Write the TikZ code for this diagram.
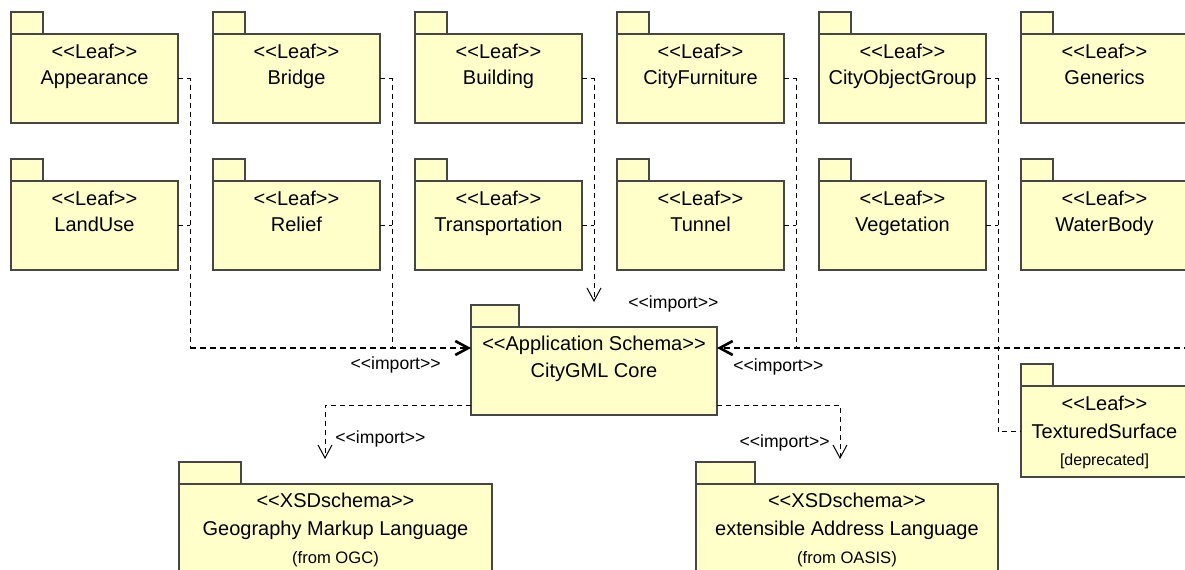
\documentclass[tikz,border=0pt]{standalone}
\usepackage{fontspec}
\setmainfont{Liberation Sans}[Ligatures=TeXOff]
\usepackage{tikz}
\usetikzlibrary{arrows.meta, shapes, positioning}
\definecolor{pkgfill}{RGB}{255,255,202}
\definecolor{pkgline}{RGB}{70,70,70}

\begin{document}
\begin{tikzpicture}[x=0.5pt, y=-0.5pt,
        pkg/.style={draw=pkgline, fill=pkgfill, line width=0.6pt, outer sep=0pt, inner sep=0pt, minimum width=83.5pt, minimum height=44.5pt},
        pkgtab/.style={draw=pkgline, fill=pkgfill, line width=0.6pt, outer sep=0pt, inner sep=0pt, minimum width=16pt, minimum height=11pt},
        pkgtext/.style={align=center, inner sep=0pt, font=\fontsize{10}{13}\selectfont},
        importlabel/.style={inner sep=0pt, font=\fontsize{8.8}{10}\selectfont},
        importline/.style={line width=0.5pt, dash pattern=on 2.5pt off 2pt},
        importthick/.style={line width=1.1pt, dash pattern=on 3pt off 2pt},
        barb/.style={-{Straight Barb[length=6.5pt, width=7pt]}},
        barbthick/.style={-{Straight Barb[length=6.5pt, width=7pt, line width=1.3pt]}}]
        \useasboundingbox (0,0) rectangle (1185,569);
        \clip (0,0) rectangle (1185,569);

        \node[pkg, anchor=north west] (Appearance) at (11,34) {};
        \node[pkg, right=17.5pt of Appearance] (Bridge) {};
        \node[pkg, right=17.5pt of Bridge] (Building) {};
        \node[pkg, right=17.5pt of Building] (CityFurniture) {};
        \node[pkg, right=17.5pt of CityFurniture] (CityObjectGroup) {};
        \node[pkg, right=17.5pt of CityObjectGroup] (Generics) {};
        \node[pkg, below=29pt of Appearance] (LandUse) {};
        \node[pkg, below=29pt of Bridge] (Relief) {};
        \node[pkg, below=29pt of Building] (Transportation) {};
        \node[pkg, below=29pt of CityFurniture] (Tunnel) {};
        \node[pkg, below=29pt of CityObjectGroup] (Vegetation) {};
        \node[pkg, below=29pt of Generics] (WaterBody) {};
        \node[pkg, below=58pt of WaterBody, minimum height=45.5pt] (TexturedSurface) {};

        \node[pkgtab, above right=0pt and 0pt of Appearance.north west] (AppearanceTab) {};
        \node[pkgtab, above right=0pt and 0pt of Bridge.north west] (BridgeTab) {};
        \node[pkgtab, above right=0pt and 0pt of Building.north west] (BuildingTab) {};
        \node[pkgtab, above right=0pt and 0pt of CityFurniture.north west] (CityFurnitureTab) {};
        \node[pkgtab, above right=0pt and 0pt of CityObjectGroup.north west] (CityObjectGroupTab) {};
        \node[pkgtab, above right=0pt and 0pt of Generics.north west] (GenericsTab) {};
        \node[pkgtab, above right=0pt and 0pt of LandUse.north west] (LandUseTab) {};
        \node[pkgtab, above right=0pt and 0pt of Relief.north west] (ReliefTab) {};
        \node[pkgtab, above right=0pt and 0pt of Transportation.north west] (TransportationTab) {};
        \node[pkgtab, above right=0pt and 0pt of Tunnel.north west] (TunnelTab) {};
        \node[pkgtab, above right=0pt and 0pt of Vegetation.north west] (VegetationTab) {};
        \node[pkgtab, above right=0pt and 0pt of WaterBody.north west] (WaterBodyTab) {};
        \node[pkgtab, above right=0pt and 0pt of TexturedSurface.north west] (TexturedSurfaceTab) {};

        \node[pkgtext, below=4.9pt of Appearance.north] (AppearanceText) {<<Leaf>>\\Appearance};
        \node[pkgtext, below=4.9pt of Bridge.north] (BridgeText) {<<Leaf>>\\Bridge};
        \node[pkgtext, below=4.9pt of Building.north] (BuildingText) {<<Leaf>>\\Building};
        \node[pkgtext, below=4.9pt of CityFurniture.north] (CityFurnitureText) {<<Leaf>>\\CityFurniture};
        \node[pkgtext, below=4.9pt of CityObjectGroup.north] (CityObjectGroupText) {<<Leaf>>\\CityObjectGroup};
        \node[pkgtext, below=4.9pt of Generics.north] (GenericsText) {<<Leaf>>\\Generics};
        \node[pkgtext, below=4.9pt of LandUse.north] (LandUseText) {<<Leaf>>\\LandUse};
        \node[pkgtext, below=4.9pt of Relief.north] (ReliefText) {<<Leaf>>\\Relief};
        \node[pkgtext, below=4.9pt of Transportation.north] (TransportationText) {<<Leaf>>\\Transportation};
        \node[pkgtext, below=4.9pt of Tunnel.north] (TunnelText) {<<Leaf>>\\Tunnel};
        \node[pkgtext, below=4.9pt of Vegetation.north] (VegetationText) {<<Leaf>>\\Vegetation};
        \node[pkgtext, below=4.9pt of WaterBody.north] (WaterBodyText) {<<Leaf>>\\WaterBody};
        \node[pkgtext, below=4.9pt of TexturedSurface.north, font=\fontsize{10}{13.8}\selectfont] (TexturedSurfaceText) {<<Leaf>>\\TexturedSurface\\{\fontsize{8}{13.8}\selectfont [deprecated]}};

        \node[pkg, anchor=north west, minimum width=123pt, minimum height=44pt] (Core) at (471,327) {};
        \node[pkgtab, minimum width=24pt, above right=0pt and 0pt of Core.north west] (CoreTab) {};
        \node[pkgtext, below=4.4pt of Core.north, font=\fontsize{10}{13.6}\selectfont] (CoreText) {<<Application Schema>>\\CityGML Core};

        \node[pkg, anchor=north west, minimum width=156.5pt, minimum height=46pt] (GML) at (179,484) {};
        \node[pkgtab, minimum width=31pt, above right=0pt and 0pt of GML.north west] (GMLTab) {};
        \node[pkgtext, below=4.5pt of GML.north, font=\fontsize{10}{13.9}\selectfont] (GMLText) {<<XSDschema>>\\Geography Markup Language\\{\fontsize{8.3}{13.9}\selectfont (from OGC)}};

        \node[pkg, anchor=north west, minimum width=151pt, minimum height=46pt] (XAL) at (696,484) {};
        \node[pkgtab, minimum width=29.5pt, above right=0pt and 0pt of XAL.north west] (XALTab) {};
        \node[pkgtext, below=4.5pt of XAL.north, font=\fontsize{10}{13.9}\selectfont] (XALText) {<<XSDschema>>\\extensible Address Language\\{\fontsize{8.3}{13.9}\selectfont (from OASIS)}};

        \coordinate (InL) at ([yshift=-10.5pt]Core.north west);
        \coordinate (InR) at ([yshift=-10.5pt]Core.north east);
        \coordinate (OutL) at ([yshift=5pt]Core.south west);
        \coordinate (OutR) at ([yshift=5pt]Core.south east);
        \coordinate (JA) at ([xshift=6pt]Appearance.east);
        \coordinate (JB) at ([xshift=6pt]Bridge.east);
        \coordinate (JC) at ([xshift=6pt]Building.east);
        \coordinate (JD) at ([xshift=6pt]CityFurniture.east);
        \coordinate (JE) at ([xshift=6pt]CityObjectGroup.east);
        \coordinate (JF) at ([xshift=6pt]Generics.east);
        \path (JC |- CoreTab.north) ++(0,-3) coordinate (ToCore);
        \coordinate (ToGML) at (325,459);
        \coordinate (ToXAL) at (840,459);

        \draw[importline] (Appearance.east) -- (JA) -- (JA |- InL);
        \draw[importline] (LandUse.east) -- (LandUse.east -| JA);
        \draw[importline] (Bridge.east) -- (JB) -- (JB |- InL);
        \draw[importline] (Relief.east) -- (Relief.east -| JB);
        \draw[importline, barb] (Building.east) -- (JC) -- (ToCore);
        \draw[importline] (Transportation.east) -- (Transportation.east -| JC);
        \draw[importline] (CityFurniture.east) -- (JD) -- (JD |- InR);
        \draw[importline] (Tunnel.east) -- (Tunnel.east -| JD);
        \draw[importline] (CityObjectGroup.east) -- (JE) |- (TexturedSurface.west);
        \draw[importline] (Vegetation.east) -- (Vegetation.east -| JE);
        \draw[importthick, barbthick] (JA |- InL) -- (InL);
        \draw[importthick, barbthick] (JF |- InR) -- (InR);
        \draw[importline, barb] (OutL) -| (ToGML);
        \draw[importline, barb] (OutR) -| (ToXAL);

        \node[importlabel, below left=4pt and 15pt of InL] (ImportL) {<<import>>};
        \node[importlabel, below right=5pt and 8pt of InR] (ImportR) {<<import>>};
        \node[importlabel, right=17pt of ToCore, yshift=-1pt] (ImportT) {<<import>>};
        \node[importlabel, above right=5.5pt and 5pt of ToGML] (ImportG) {<<import>>};
        \node[importlabel, above left=3.5pt and 5pt of ToXAL] (ImportX) {<<import>>};
\end{tikzpicture}
\end{document}
